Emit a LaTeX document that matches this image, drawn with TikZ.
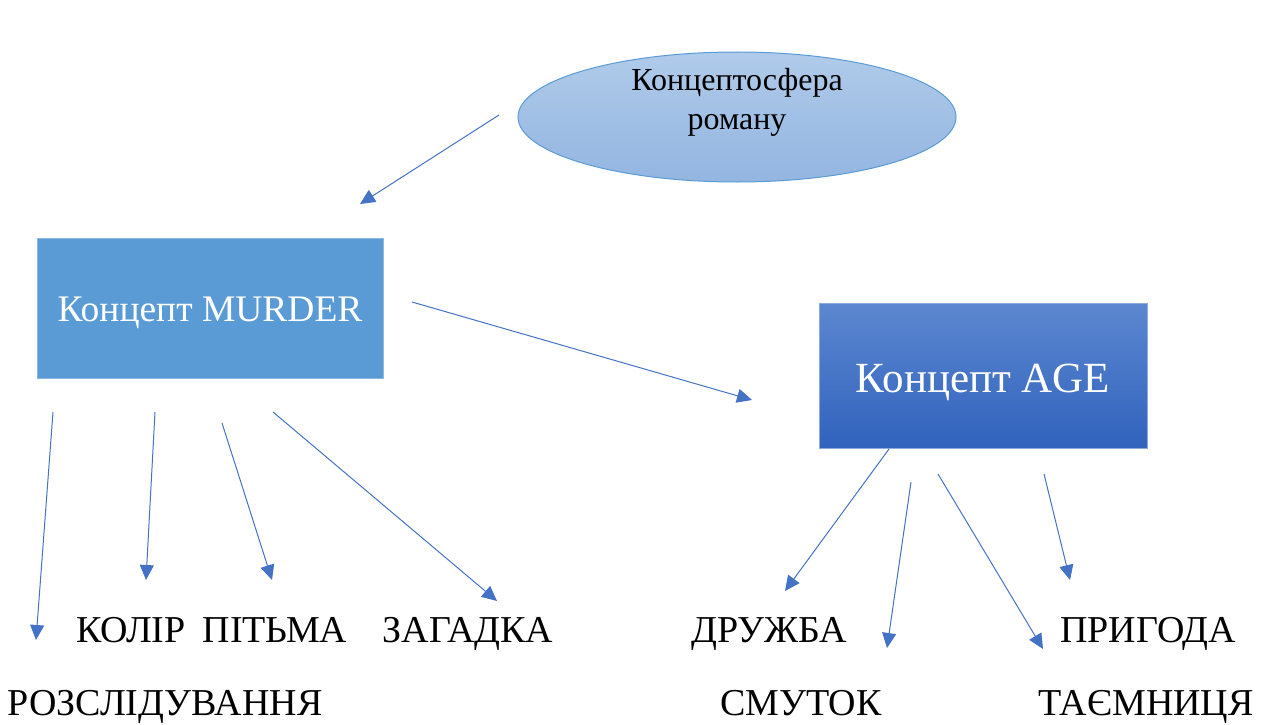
\documentclass[tikz,border=0pt]{standalone}
\usepackage{fontspec}
\setmainfont{Liberation Serif}
\usetikzlibrary{arrows.meta,shapes.geometric}
\definecolor{arr}{HTML}{4472C4}
\definecolor{murder}{HTML}{5B9BD5}
\definecolor{ellT}{HTML}{B0CBEA}
\definecolor{ellB}{HTML}{93B5E1}
\definecolor{ellD}{HTML}{5B9BD5}
\definecolor{ageT}{HTML}{5C87D0}
\definecolor{ageB}{HTML}{3163BD}
\definecolor{ageD}{HTML}{8FAADC}
\tikzset{
  conn/.style={draw=arr, line width=1pt, -{Triangle[length=15pt,width=14pt]}},
  lbl/.style={anchor=base, inner sep=0pt, font=\fontsize{38}{42}\selectfont},
}
\begin{document}
\begin{tikzpicture}[x=1pt,y=-1pt]
\useasboundingbox (0,0) rectangle (1264,725);
% ellipse
\path[shading=axis, top color=ellT, bottom color=ellB, draw=ellD, line width=1pt]
  (737,117) ellipse [x radius=219, y radius=65];
\node[ellipse, minimum width=438pt, minimum height=130pt] (sphere) at (737,117) {};
\node[anchor=base, inner sep=0pt, font=\fontsize{32}{36}\selectfont] (t1) at (737,91) {Концептосфера};
\node[anchor=base, inner sep=0pt, font=\fontsize{32}{36}\selectfont] (t2) at (737,129) {роману};
% MURDER box
\path[fill=murder, draw=murder!70!white, line width=0.8pt] (37,238) rectangle (383,378);
\node[anchor=base, inner sep=0pt, text=white, font=\fontsize{37.5}{42}\selectfont] (murder) at (210,321) {Концепт MURDER};
% AGE box
\path[shading=axis, top color=ageT, bottom color=ageB, draw=ageD, line width=0.8pt] (819,303) rectangle (1147,448);
\node[anchor=base, inner sep=0pt, text=white, font=\fontsize{43}{47}\selectfont] (age) at (983,392) {Концепт AGE};
% labels
\node[lbl] (kolir) at (131,642) {КОЛІР};
\node[lbl] (pitma) at (275,642) {ПІТЬМА};
\node[lbl] (zagadka) at (468,642) {ЗАГАДКА};
\node[lbl] (druzhba) at (769,642) {ДРУЖБА};
\node[lbl] (prygoda) at (1148,642) {ПРИГОДА};
\node[lbl] (rozsl) at (165,715) {РОЗСЛІДУВАННЯ};
\node[lbl] (smutok) at (801,715) {СМУТОК};
\node[lbl] (taemn) at (1146,715) {ТАЄМНИЦЯ};
% connector endpoints
\coordinate (a1s) at (499,115); \coordinate (a1e) at (360,204);
\coordinate (a2s) at (412,302); \coordinate (a2e) at (752,400);
\coordinate (a3s) at (53,412);  \coordinate (a3e) at (36,640);
\coordinate (a4s) at (155,412); \coordinate (a4e) at (146,580);
\coordinate (a5s) at (222,423); \coordinate (a5e) at (272,580);
\coordinate (a6s) at (273,412); \coordinate (a6e) at (497,601);
\coordinate (a7s) at (889,449); \coordinate (a7e) at (785,591);
\coordinate (a8s) at (911,482); \coordinate (a8e) at (887,648);
\coordinate (a9s) at (938,474); \coordinate (a9e) at (1043,649);
\coordinate (a10s) at (1044,474); \coordinate (a10e) at (1070,580);
\foreach \i in {1,...,10} { \draw[conn] (a\i s) -- (a\i e); }
\end{tikzpicture}
\end{document}
